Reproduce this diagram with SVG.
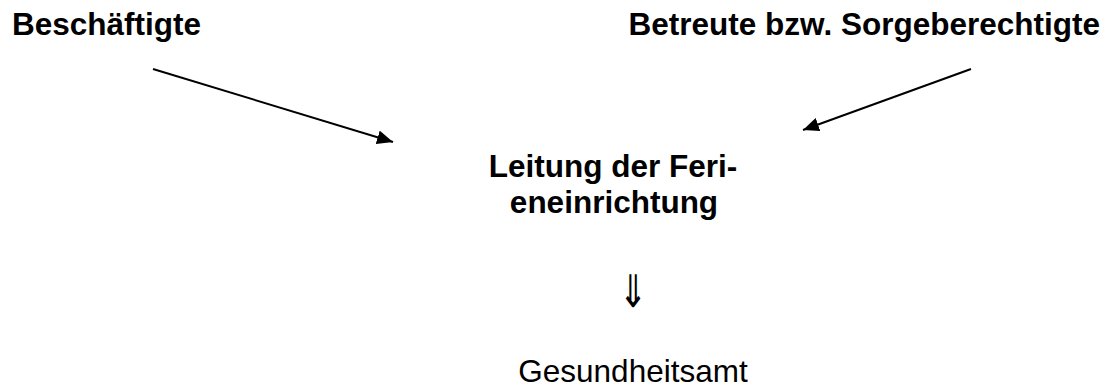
<svg xmlns="http://www.w3.org/2000/svg" width="1106" height="387" viewBox="0 0 1106 387">
<style>
.b{font-family:"Liberation Sans",Arial,sans-serif;font-weight:bold;font-size:31.5px;fill:#000}
.r{font-family:"Liberation Sans",Arial,sans-serif;font-size:31.5px;fill:#000}
.sym{font-family:"DejaVu Sans",sans-serif;font-size:45px;fill:#000}
.c{stroke:#000;stroke-width:2;fill:none}
</style>
<defs>
<marker id="ah" markerUnits="userSpaceOnUse" markerWidth="17" markerHeight="15" refX="16" refY="7" orient="auto">
<path d="M0,0 L16,7 L0,14 z" fill="#000"/>
</marker>
</defs>
<rect width="1106" height="387" fill="#fff"/>
<g id="node-beschaeftigte"><text class="b" x="12" y="35">Beschäftigte</text></g>
<g id="node-betreute"><text class="b" x="1100" y="35" text-anchor="end">Betreute bzw. Sorgeberechtigte</text></g>
<g id="node-leitung">
<text class="b" x="613" y="177" text-anchor="middle">Leitung der Feri-</text>
<text class="b" x="614" y="213" text-anchor="middle">eneinrichtung</text>
</g>
<g id="node-gesundheitsamt"><text class="r" x="633" y="382" text-anchor="middle">Gesundheitsamt</text></g>
<g id="connectors">
<line class="c" x1="153" y1="69" x2="393" y2="142" marker-end="url(#ah)"/>
<line class="c" x1="971" y1="69" x2="803" y2="130" marker-end="url(#ah)"/>
<text class="sym" transform="translate(633,307) scale(0.76,1)" text-anchor="middle">⇓</text>
</g>
</svg>
